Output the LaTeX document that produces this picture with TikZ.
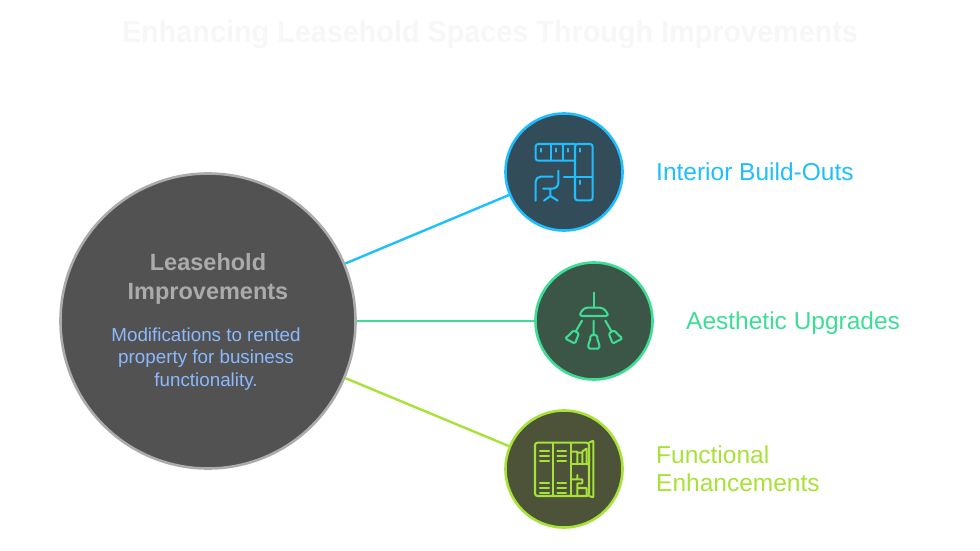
\documentclass[tikz,border=0pt]{standalone}
\usepackage{graphicx}
\usepackage{fontspec}
\setmainfont{Liberation Sans}
\definecolor{cblue}{HTML}{1EBEFF}
\definecolor{fblue}{HTML}{334C59}
\definecolor{cgreen}{HTML}{3EDD96}
\definecolor{fgreen}{HTML}{3B5547}
\definecolor{clime}{HTML}{A8E138}
\definecolor{flime}{HTML}{4C5338}
\definecolor{cbig}{HTML}{ABABAB}
\definecolor{fbig}{HTML}{525252}
\definecolor{csub}{HTML}{8BB9FF}
\definecolor{ctitle}{HTML}{F7F7F7}
\tikzset{
  ringnode/.style={circle,draw=#1,line width=2.6pt,minimum size=117pt,inner sep=0pt},
  linkline/.style={draw=#1,line width=2.4pt},
  labeltext/.style={text=#1,font=\fontsize{24.5}{28}\selectfont,anchor=west,align=left,inner sep=0pt},
  iconline/.style={draw=#1,line width=2.05pt,line cap=round,line join=round,rounded corners=0.6pt},
}
\begin{document}
\begin{tikzpicture}[x=1pt,y=-1pt]
\useasboundingbox (0,0) rectangle (980,551);
\node (title) at (490,35) [text=ctitle,font=\fontsize{30.5}{34}\selectfont\bfseries,inner sep=0pt] {\scalebox{0.944}[1]{Enhancing Leasehold Spaces Through Improvements}};
\node (big) at (208,321) [circle,draw=cbig,fill=fbig,line width=2.6pt,minimum size=295pt,inner sep=0pt] {};
\node (c1) at (564,172) [ringnode=cblue,fill=fblue] {};
\node (c2) at (594,321) [ringnode=cgreen,fill=fgreen] {};
\node (c3) at (564,469) [ringnode=clime,fill=flime] {};
\draw[linkline=cblue] (big) -- (c1);
\draw[linkline=cgreen] (big) -- (c2);
\draw[linkline=clime] (big) -- (c3);
\node (head) at (208,279) [text=cbig,align=center,font=\fontsize{23.5}{29.5}\selectfont\bfseries,inner sep=0pt] {Leasehold\\Improvements};
\node (sub) at (206,359) [text=csub,align=center,font=\fontsize{18.8}{22.5}\selectfont,inner sep=0pt] {Modifications to rented\\property for business\\functionality.};
\node (l1) at (656,172) [labeltext=cblue] {Interior Build-Outs};
\node (l2) at (686,323) [labeltext=cgreen] {Aesthetic Upgrades};
\node (l3) at (656,469) [labeltext=clime] {Functional\\Enhancements};
% icon 1
\begin{scope}[shift={(490,100)},x=0.3333pt,y=-0.3333pt,iconline=cblue]
\draw[rounded corners=2.5pt] (255,182) -- (137,182) -- (137,132) -- (255,132);
\draw[rounded corners=2.5pt] (255,132) -- (308,132) -- (308,301) -- (255,301) -- cycle;
\draw (183,132) -- (183,182) (220,132) -- (220,182) (255,232) -- (308,232);
\draw (152,146) -- (152,155) (197,146) -- (197,155) (233,146) -- (233,155) (270,146) -- (270,155) (270,242) -- (270,252);
\draw[rounded corners=5pt] (137,302) -- (137,230) -- (188,230);
\draw (222,230) -- (255,230);
\draw[rounded corners=6pt] (205,212) -- (205,266) -- (160,266);
\draw (181,266) -- (181,288) (162,302) -- (181,288) -- (203,302);
\end{scope}
% icon 2
\begin{scope}[shift={(520,255)},x=0.3333pt,y=-0.3333pt,iconline=cgreen]
\draw (221,113) -- (221,158);
\draw[rounded corners=3.5pt] (192,158) -- (250,158) -- (268,183) -- (176,183) -- cycle;
\draw (221,197) -- (221,240) (186,197) -- (168,228) (256,197) -- (274,228);
\draw[rounded corners=1.5pt] (212,240) -- (231,240) -- (233,258) -- (238,266) -- (238,281) -- (205,281) -- (205,266) -- (210,258) -- cycle;
\draw[rounded corners=1.5pt] (160,226) -- (177,235) -- (171,250) -- (165,266) -- (135,250) -- (148,240) -- cycle;
\draw[rounded corners=1.5pt] (283,226) -- (266,235) -- (272,250) -- (278,266) -- (308,250) -- (295,240) -- cycle;
\end{scope}
% icon 3
\begin{scope}[shift={(490,400)},x=0.3333pt,y=-0.3333pt,iconline=clime]
\draw[rounded corners=2.5pt] (297,128) -- (135,128) -- (135,288) -- (297,288) -- cycle;
\draw (297,128) -- (310,122) -- (310,292) -- (297,288);
\draw (190,128) -- (190,288) (243,128) -- (243,288);
\draw (150,152) -- (177,152) (150,167) -- (177,167) (150,183) -- (177,183);
\draw (202,152) -- (228,152) (202,167) -- (228,167) (202,183) -- (228,183);
\draw (150,248) -- (177,248) (150,263) -- (177,263) (150,278) -- (177,278);
\draw (202,248) -- (228,248) (202,263) -- (228,263) (202,278) -- (228,278);
\draw (243,193) -- (297,193);
\draw (243,155) -- (262,155) -- (262,193) (262,158) -- (277,158) -- (277,193) (277,155) -- (290,145) -- (290,193);
\draw (243,238) -- (277,238) -- (277,250) -- (262,250) -- (262,288) (262,225) -- (262,238) (262,264) -- (290,264) -- (290,288);
\end{scope}
\end{tikzpicture}
\end{document}
